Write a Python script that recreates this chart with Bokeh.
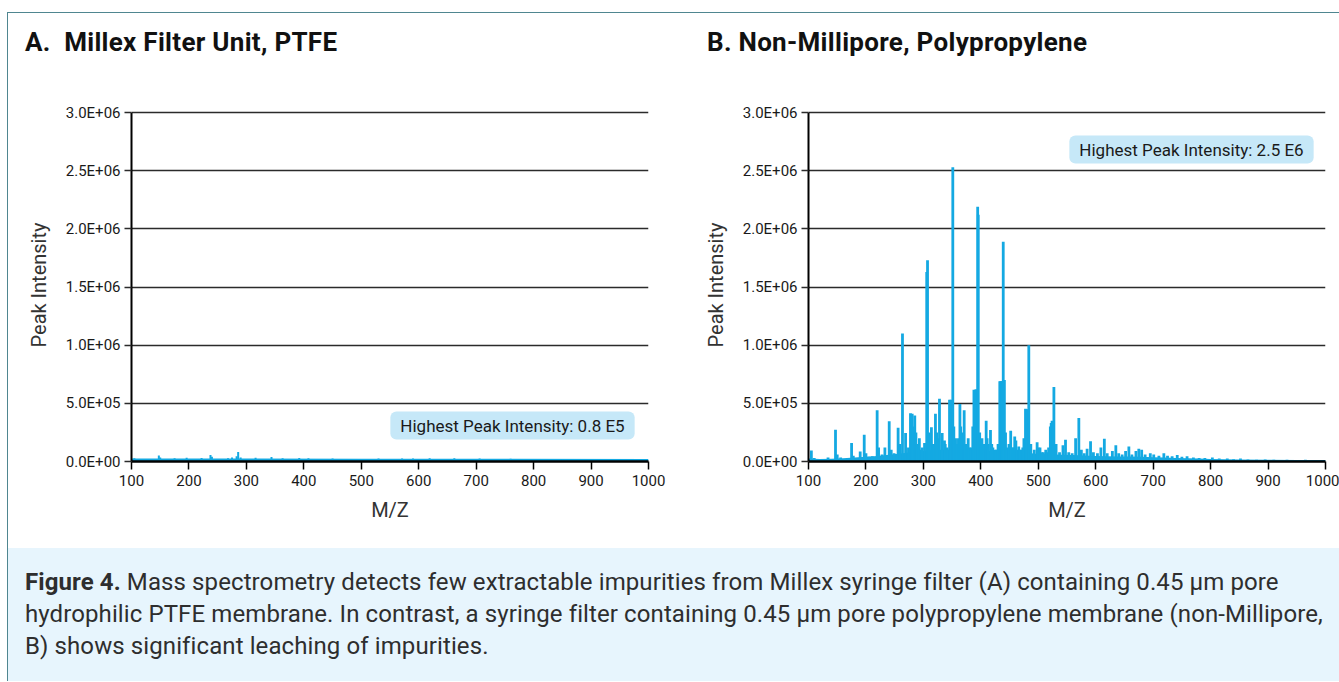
from bokeh.plotting import figure
from bokeh.models import Label, Range1d, FixedTicker, Div
from bokeh.layouts import column, row
from bokeh.embed import file_html
from bokeh.resources import INLINE

# ---------------- data ----------------
x_ticks = [100, 200, 300, 400, 500, 600, 700, 800, 900, 1000]
y_ticks = [0, 500000, 1000000, 1500000, 2000000, 2500000, 3000000]
y_tick_labels = ["0.0E+00", "5.0E+05", "1.0E+06", "1.5E+06", "2.0E+06", "2.5E+06", "3.0E+06"]

# Panel A: Millex PTFE (peaks: m/z, intensity)
mz_a = [105, 147.6, 150, 175, 196, 222, 237.5, 240, 268, 275, 283, 285.7, 290, 316,
        343.7, 363, 392, 408, 450, 530, 571, 590, 619, 662, 706, 760, 850, 950]
int_a = [28000, 52000, 34000, 28000, 32000, 30000, 55000, 40000, 28000, 35000, 45000,
         82000, 35000, 32000, 38000, 28000, 30000, 28000, 25000, 25000, 25000, 25000,
         27000, 27000, 26000, 23000, 22000, 22000]
floor_mz_a = [100, 300, 500, 700, 1000]
floor_a = [26000, 25000, 24000, 23000, 22000]

# Panel B: non-Millipore polypropylene
mz_b = [105, 110, 134, 147, 150, 156, 175, 178, 190, 197, 200, 205, 211, 219.5, 222,
        228, 233, 240.5, 244, 249, 256, 259, 263.6, 269, 274, 277.5, 280.5, 282, 285,
        287, 289, 293, 296, 298, 302, 305.8, 307.2, 310, 314, 316, 318, 321, 323, 325,
        328, 332.7, 336.7, 338, 341, 343, 345.5, 348, 351.2, 353, 356, 358, 361, 363.6,
        365, 367, 369, 371, 373, 375, 378, 380, 383, 386, 388, 391.5, 394.5, 395.5, 398,
        400, 402, 404, 406, 409.3, 411, 413, 416.8, 419, 421, 425, 427, 430, 433, 434.5,
        436, 437.5, 439, 441, 443, 446, 449, 452, 455, 457, 459, 461, 463, 466, 468, 471,
        473, 475, 477.8, 479, 481, 483.5, 487, 493, 498, 500, 503, 506, 509, 513, 515,
        518, 521, 522.5, 524, 525.5, 527.2, 531, 537, 543, 547.4, 553, 559, 565, 570.6,
        575, 580, 585, 591, 596, 603, 609, 615, 620, 629, 635, 640, 646, 652, 657.7, 663,
        670, 675, 680, 686, 695, 701, 710, 718.6, 725, 733, 741.9, 750, 759, 770, 780,
        790, 803, 815, 829, 840, 852, 865, 880, 895, 910, 933, 950, 965, 980, 995]
int_b = [95000, 30000, 35000, 272000, 60000, 35000, 160000, 50000, 85000, 230000, 70000,
         40000, 45000, 440000, 120000, 60000, 120000, 346000, 100000, 70000, 290000,
         150000, 1100000, 245000, 120000, 415000, 410000, 300000, 395000, 250000, 150000,
         200000, 100000, 120000, 160000, 1630000, 1730000, 250000, 295000, 150000, 150000,
         410000, 250000, 200000, 540000, 245000, 180000, 150000, 120000, 100000, 530000,
         530000, 2530000, 300000, 200000, 150000, 200000, 495000, 300000, 200000, 250000,
         440000, 150000, 150000, 200000, 120000, 120000, 300000, 616000, 620000, 2190000,
         2120000, 250000, 150000, 200000, 120000, 150000, 350000, 200000, 150000, 270000,
         150000, 120000, 100000, 100000, 150000, 690000, 690000, 690000, 690000, 1890000,
         700000, 250000, 120000, 150000, 264000, 120000, 120000, 215000, 180000, 100000,
         130000, 100000, 100000, 120000, 200000, 453000, 450000, 450000, 1000000, 150000,
         100000, 166000, 120000, 120000, 80000, 80000, 100000, 80000, 120000, 300000,
         330000, 350000, 330000, 640000, 150000, 80000, 140000, 187000, 80000, 70000,
         200000, 375000, 100000, 70000, 110000, 175000, 80000, 70000, 120000, 195000,
         70000, 90000, 140000, 70000, 60000, 90000, 130000, 60000, 90000, 110000, 100000,
         60000, 70000, 60000, 50000, 70000, 50000, 45000, 55000, 40000, 45000, 35000,
         30000, 30000, 35000, 25000, 25000, 20000, 25000, 18000, 15000, 17000, 14000,
         15000, 12000, 14000, 12000, 10000]
floor_mz_b = [100, 120, 140, 160, 180, 200, 220, 240, 260, 280, 300, 320, 340, 360, 380,
              400, 420, 440, 460, 480, 500, 520, 540, 560, 580, 600, 620, 640, 660, 680,
              700, 720, 740, 760, 780, 800, 850, 900, 950, 1000]
floor_b = [25000, 22000, 24000, 29000, 34000, 40000, 48000, 58000, 68000, 82000, 92000,
           100000, 100000, 100000, 100000, 95000, 90000, 85000, 80000, 75000, 65000, 62000,
           58000, 55000, 52000, 48000, 46000, 42000, 42000, 40000, 36000, 35000, 30000,
           28000, 25000, 22000, 18000, 15000, 13000, 12000]

title_a = "A.&nbsp; Millex Filter Unit, PTFE"
title_b = "B. Non-Millipore, Polypropylene"
note_a = "Highest Peak Intensity: 0.8 E5"
note_b = "Highest Peak Intensity: 2.5 E6"

FONT = "Roboto"
BLUE = "#14a9e2"


def make_title(text, width, pad_left):
    html = ('<div style="padding:14px 0 0 %dpx; font-family:Roboto, sans-serif; '
            'font-size:26px; font-weight:bold; line-height:30px; color:#111111; '
            'letter-spacing:0.3px; white-space:nowrap;">%s</div>' % (pad_left, text))
    return Div(text=html, width=width, height=60, margin=0,
               styles={"background-color": "white"})


def make_panel(note, mz, inten, fmz, fval, width, left, right, note_pos, lw):
    p = figure(width=width, height=475, output_backend="svg", toolbar_location=None,
               x_range=Range1d(100, 1000), y_range=Range1d(0, 3034400),
               min_border_left=left, min_border_right=right,
               min_border_top=35, min_border_bottom=87)
    p.outline_line_color = None
    p.background_fill_color = "white"
    p.border_fill_color = "white"

    p.varea(x=fmz, y1=[0] * len(fmz), y2=fval, fill_color=BLUE)
    p.segment(x0=mz, y0=[0] * len(mz), x1=mz, y1=inten, line_color=BLUE, line_width=lw)

    p.xgrid.visible = False
    p.ygrid.grid_line_color = "#2b2b2b"
    p.ygrid.grid_line_width = 1.3

    yax = p.yaxis[0]
    yax.ticker = FixedTicker(ticks=y_ticks)
    yax.major_label_overrides = dict(zip(y_ticks, y_tick_labels))
    yax.bounds = (0, 3000000)
    yax.axis_line_width = 2
    yax.axis_line_color = "black"
    yax.major_tick_out = 7
    yax.major_tick_in = 0
    yax.major_tick_line_color = "#2b2b2b"
    yax.major_tick_line_width = 1.3
    yax.minor_tick_out = 0
    yax.minor_tick_in = 0
    yax.major_label_standoff = 4
    yax.major_label_text_font = FONT
    yax.major_label_text_font_size = "15px"
    yax.major_label_text_color = "#1a1a1a"
    yax.axis_label = "Peak Intensity"
    yax.axis_label_text_font = FONT
    yax.axis_label_text_font_size = "20px"
    yax.axis_label_text_font_style = "normal"
    yax.axis_label_text_color = "#333333"
    yax.axis_label_standoff = 12

    xax = p.xaxis[0]
    xax.ticker = FixedTicker(ticks=x_ticks)
    xax.axis_line_width = 2.5
    xax.axis_line_color = "black"
    xax.major_tick_out = 8
    xax.major_tick_in = 0
    xax.major_tick_line_width = 1.5
    xax.major_tick_line_color = "black"
    xax.minor_tick_out = 0
    xax.minor_tick_in = 0
    xax.major_label_standoff = 5
    xax.major_label_text_font = FONT
    xax.major_label_text_font_size = "15px"
    xax.major_label_text_color = "#1a1a1a"
    xax.axis_label = "M/Z"
    xax.axis_label_text_font = FONT
    xax.axis_label_text_font_size = "20px"
    xax.axis_label_text_font_style = "normal"
    xax.axis_label_text_color = "#333333"
    xax.axis_label_standoff = 9

    p.add_layout(Label(x=note_pos[0], y=note_pos[1], x_units="screen", y_units="screen",
                       text=note, text_font=FONT, text_font_size="17px",
                       text_color="#1a1a1a", text_baseline="middle", text_align="center",
                       background_fill_color="#c6e8f8", border_radius=6, padding=(10, 4)))
    return p


pa = make_panel(note_a, mz_a, int_a, floor_mz_a, floor_a,
                width=665, left=123, right=25, note_pos=(381, 36), lw=2)
pb = make_panel(note_b, mz_b, int_b, floor_mz_b, floor_b,
                width=666, left=135, right=14, note_pos=(383, 312), lw=2.8)

ta = make_title(title_a, 665, 17)
tb = make_title(title_b, 666, 34)

cap_html = (
    '<div style="padding:18px 0 0 17px; font-family:Roboto, sans-serif; font-size:24px; '
    'letter-spacing:0.1px; line-height:32px; color:#2e2e2e; white-space:nowrap;">'
    '<b>Figure 4.</b> Mass spectrometry detects few extractable impurities from Millex '
    'syringe filter (A) containing 0.45 \u00b5m pore<br>'
    'hydrophilic PTFE membrane. In contrast, a syringe filter containing 0.45 \u00b5m pore '
    'polypropylene membrane (non-Millipore,<br>'
    'B) shows significant leaching of impurities.</div>'
)
cap = Div(text=cap_html, width=1331, height=133, margin=0,
          styles={"background-color": "#e7f5fd"})

layout = column(row(column(ta, pa), column(tb, pb)), cap,
                styles={"border-top": "1px solid #4f8690",
                        "border-left": "1px solid #4f8690",
                        "margin-top": "12px",
                        "margin-left": "7px"})

open("out.html", "w").write(file_html(layout, INLINE))
